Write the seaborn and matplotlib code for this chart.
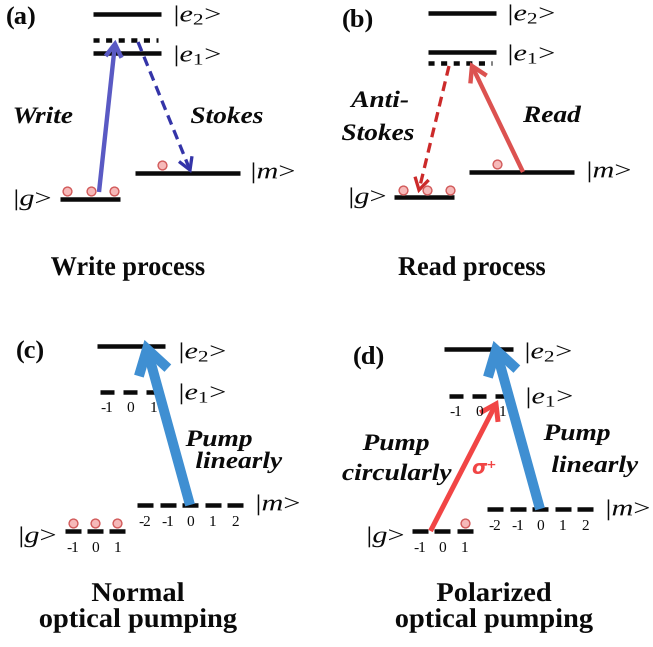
import numpy as np
import pandas as pd
import matplotlib
matplotlib.use("Agg")
import matplotlib.pyplot as plt
from matplotlib.patheffects import AbstractPathEffect
from matplotlib.transforms import Affine2D
import seaborn as sns

sns.set_theme(style="white")
plt.rcParams["font.family"] = ["Liberation Serif", "DejaVu Serif"]
plt.rcParams["mathtext.fontset"] = "custom"
plt.rcParams["mathtext.rm"] = "Liberation Serif"
plt.rcParams["mathtext.it"] = "Liberation Serif:italic"
plt.rcParams["mathtext.bf"] = "Liberation Serif:bold"

# ---- content -------------------------------------------------------------
panel_tags = ["(a)", "(b)", "(c)", "(d)"]
captions = [["Write process"], ["Read process"],
            ["Normal", "optical pumping"], ["Polarized", "optical pumping"]]
ket_e2, ket_e1, ket_m, ket_g = r"|$e_2$>", r"|$e_1$>", r"|$m$>", r"|$g$>"
g_sublevels = [-1, 0, 1]
e1_sublevels = [-1, 0, 1]
m_sublevels = [-2, -1, 0, 1, 2]
atoms_on_g_ab = 3            # atoms sitting in |g> for write/read
atoms_on_m_ab = 1            # atom stored in |m>
atoms_g_normal = [-1, 0, 1]  # occupied g sublevels, normal pumping
atoms_g_polarized = [1]      # occupied g sublevel, polarized pumping
beam_write, beam_stokes = "Write", "Stokes"
beam_anti = ["Anti-", "Stokes"]
beam_read = "Read"
beam_pump_lin = ["Pump", "linearly"]
beam_pump_circ = ["Pump", "circularly"]
sigma_label = "\u03c3\u207a"

# ---- style ---------------------------------------------------------------
PX = 0.72  # points per pixel at 100 dpi
BLACK = "#0a0a0a"
ATOM_FACE, ATOM_EDGE = "#f6b9b9", "#d25a5a"
WRITE_C, STOKES_C = "#5a5ac4", "#3434a8"
ANTI_C, READ_C = "#cc2a2a", "#dc5250"
PUMP_BLUE, PUMP_RED = "#3f8fd2", "#f14545"


class Stretch(AbstractPathEffect):
    """Widen glyph outlines horizontally about the text anchor."""

    def __init__(self, sx, ha="center"):
        super().__init__()
        self.sx = sx
        self.ha = ha

    def draw_path(self, renderer, gc, tpath, affine, rgbFace=None):
        ext = tpath.get_extents()
        if self.ha == "center":
            x0 = 0.5 * (ext.x0 + ext.x1)
        elif self.ha == "right":
            x0 = ext.x1
        else:
            x0 = ext.x0
        st = Affine2D().translate(-x0, 0).scale(self.sx, 1.0).translate(x0, 0)
        renderer.draw_path(gc, tpath, st + affine, rgbFace)


fig = plt.figure(figsize=(6.53, 6.47), dpi=100)
ax = fig.add_axes([0, 0, 1, 1])
ax.set_xlim(0, 653)
ax.set_ylim(647, 0)
ax.axis("off")

LEVEL_LW = 4.5 * PX


def level(x0, x1, y, dotted=False):
    if dotted:
        ax.plot([x0, x1], [y, y], color=BLACK, lw=LEVEL_LW,
                linestyle=(0, (1.35, 1.45)), solid_capstyle="butt",
                dash_capstyle="butt")
    else:
        ax.plot([x0, x1], [y, y], color=BLACK, lw=LEVEL_LW,
                solid_capstyle="butt")


def sublevels(xc, y, values, pitch=22.5, width=15, lab_dy=17):
    xs = {}
    n = len(values)
    for i, v in enumerate(values):
        x = xc + (i - (n - 1) / 2) * pitch
        xs[v] = x
        ax.plot([x - width / 2, x + width / 2], [y, y], color=BLACK,
                lw=LEVEL_LW, solid_capstyle="butt")
        ax.text(x, y + lab_dy, str(v), ha="center", va="center",
                fontsize=11, color=BLACK)
    return xs


def ket(x, y, s, ha="left"):
    ax.text(x, y, s, ha=ha, va="center", fontsize=16.5, color=BLACK,
            path_effects=[Stretch(1.32, ha)])


def arrow(p0, p1, color, lw_px, head_len, head_w, dashed=False):
    p0 = np.asarray(p0, float)
    p1 = np.asarray(p1, float)
    d = p1 - p0
    u = d / np.hypot(*d)
    n = np.array([-u[1], u[0]])
    end = p1 - u * lw_px * 0.5
    ls = (0, (3.0, 1.8)) if dashed else "-"
    ax.plot([p0[0], end[0]], [p0[1], end[1]], color=color, lw=lw_px * PX,
            linestyle=ls, solid_capstyle="butt", dash_capstyle="butt")
    a = p1 - u * head_len + n * head_w
    b = p1 - u * head_len - n * head_w
    ax.plot([a[0], p1[0], b[0]], [a[1], p1[1], b[1]], color=color,
            lw=lw_px * PX, solid_joinstyle="miter", solid_capstyle="butt")


atom_rows = []


def add_atoms(xs, y):
    for x in xs:
        atom_rows.append({"x": x, "y": y})


def beam_text(x, y, s):
    ax.text(x, y, s, ha="center", va="baseline", fontsize=17,
            fontweight="bold", fontstyle="italic", color=BLACK,
            path_effects=[Stretch(1.16)])


def caption(x, ys, lines, sx=1.05):
    for y, s in zip(ys, lines):
        ax.text(x, y, s, ha="center", va="baseline", fontsize=19.5,
                fontweight="bold", color=BLACK,
                path_effects=[Stretch(sx)])


def tag(x, y, s):
    ax.text(x, y, s, ha="center", va="center", fontsize=19,
            fontweight="bold", color=BLACK)


# ---- (a) write process ----------------------------------------------------
tag(21, 18, panel_tags[0])
level(93, 161, 14)
level(93, 158, 40, dotted=True)
level(93, 161, 53)
ket(174, 16, ket_e2)
ket(174, 56, ket_e1)
level(135, 240, 173)
ket(251, 173, ket_m)
level(60, 120, 199)
ket(52, 200, ket_g, ha="right")
add_atoms(np.linspace(67, 114, atoms_on_g_ab), 191)
add_atoms([162] * atoms_on_m_ab, 164.5)
arrow((99, 192), (115, 44), WRITE_C, 4.4, 13, 8)
arrow((138, 42), (190, 170), STOKES_C, 3.3, 12, 7, dashed=True)
beam_text(43, 123, beam_write)
beam_text(227, 123, beam_stokes)
caption(128, [275], captions[0], sx=0.97)

# ---- (b) read process -----------------------------------------------------
tag(358, 20, panel_tags[1])
level(428, 496, 13)
level(428, 496, 52)
level(428, 492, 63, dotted=True)
ket(508, 15, ket_e2)
ket(508, 55, ket_e1)
level(469, 574, 172)
ket(587, 172, ket_m)
level(394, 454, 197)
ket(387, 198, ket_g, ha="right")
add_atoms(np.linspace(403, 450, atoms_on_g_ab), 190)
add_atoms([497] * atoms_on_m_ab, 163.5)
arrow((449, 66), (419, 190), ANTI_C, 3.3, 12, 7, dashed=True)
arrow((523, 172), (472, 66), READ_C, 4.4, 15, 9)
beam_text(380, 107, beam_anti[0])
beam_text(378, 140, beam_anti[1])
beam_text(552, 122, beam_read)
caption(472, [275], captions[1], sx=0.97)

# ---- (c) normal optical pumping ------------------------------------------
tag(30, 352, panel_tags[2])
level(97, 165, 346)
ket(179, 353, ket_e2)
sublevels(130, 392, e1_sublevels, pitch=23, width=14)
ket(179, 394, ket_e1)
xm_c = sublevels(190, 505, m_sublevels, pitch=22.5, width=16)
ket(256, 505, ket_m)
xg_c = sublevels(95, 531, g_sublevels, pitch=22, width=16)
ket(57, 537, ket_g, ha="right")
add_atoms([xg_c[v] for v in atoms_g_normal], 522.5)
arrow((xm_c[0], 505), (147, 349), PUMP_BLUE, 10, 24, 15)
beam_text(219, 446, beam_pump_lin[0])
beam_text(239, 468, beam_pump_lin[1])
caption(138, [601, 627], captions[2])

# ---- (d) polarized optical pumping ---------------------------------------
tag(369, 357, panel_tags[3])
level(444, 513, 349)
ket(525, 353, ket_e2)
xe_d = sublevels(479, 396, e1_sublevels, pitch=23, width=14)
ket(526, 398, ket_e1)
xm_d = sublevels(540, 509, m_sublevels, pitch=22.5, width=16)
ket(606, 510, ket_m)
xg_d = sublevels(442, 531, g_sublevels, pitch=22.5, width=16)
ket(405, 537, ket_g, ha="right")
add_atoms([xg_d[v] for v in atoms_g_polarized], 523)
arrow((xg_d[-1] + 11, 531), (xe_d[0] + 17, 404), PUMP_RED, 5, 15, 10)
ax.text(484, 468, sigma_label, ha="center", va="center", fontsize=14,
        color=PUMP_RED, family="DejaVu Sans", fontweight="bold",
        fontstyle="italic")
arrow((xm_d[0], 509), (496, 350), PUMP_BLUE, 10, 24, 15)
beam_text(396, 450, beam_pump_circ[0])
beam_text(397, 480, beam_pump_circ[1])
beam_text(577, 440, beam_pump_lin[0])
beam_text(595, 472, beam_pump_lin[1])
caption(494, [601, 627], captions[3])

# atoms
atoms = pd.DataFrame(atom_rows)
sns.scatterplot(data=atoms, x="x", y="y", ax=ax, s=40, color=ATOM_FACE,
                edgecolor=ATOM_EDGE, linewidth=1.0, zorder=5, legend=False)
ax.set_xlim(0, 653)
ax.set_ylim(647, 0)
ax.axis("off")

fig.savefig("out.png", dpi=100)
